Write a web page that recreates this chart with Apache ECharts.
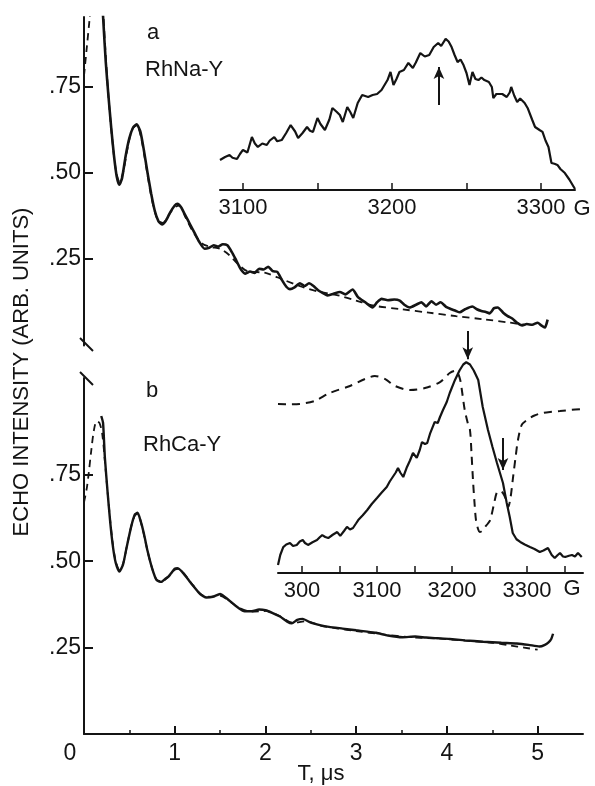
<!DOCTYPE html>
<html>
<head>
<meta charset="utf-8">
<script src="https://cdn.jsdelivr.net/npm/echarts@6/dist/echarts.min.js"></script>
<style>
html,body{margin:0;padding:0;background:#fff;}
#c{width:595px;height:786px;}
</style>
</head>
<body>
<div id="c"></div>
<script>
// ---- main time axis (T, microseconds) ----
const xTicks = [0, 1, 2, 3, 4, 5];
const xHalfTicks = [0.5, 1.5, 2.5, 3.5, 4.5];
const yTicks = [0.25, 0.5, 0.75];
const yTickLabels = ['.25', '.50', '.75'];

// panel a (RhNa-Y): echo decay, experiment (solid) and fit (dashed)
const solidA = [
[0.185,1.10],[0.20,1.0],[0.215,0.93],[0.24,0.82],[0.27,0.72],[0.30,0.63],[0.33,0.55],[0.36,0.49],[0.39,0.465],[0.42,0.485],[0.46,0.55],[0.50,0.60],[0.54,0.63],[0.58,0.64],[0.62,0.62],[0.66,0.565],[0.70,0.50],[0.74,0.44],[0.78,0.39],[0.82,0.36],[0.86,0.35],[0.90,0.36],[0.95,0.385],[1.00,0.405],[1.03,0.41],[1.07,0.40],[1.12,0.375],[1.17,0.35],[1.22,0.325],[1.27,0.30],[1.33,0.28],[1.38,0.283],[1.43,0.29],[1.48,0.286],[1.53,0.293],[1.58,0.29],[1.63,0.27],[1.68,0.245],[1.73,0.22],[1.78,0.208],[1.83,0.214],[1.88,0.21],[1.93,0.222],[1.98,0.22],[2.03,0.228],[2.08,0.215],[2.13,0.213],[2.18,0.19],[2.23,0.17],[2.27,0.163],[2.32,0.168],[2.38,0.18],[2.43,0.172],[2.48,0.18],[2.53,0.172],[2.58,0.16],[2.63,0.152],[2.68,0.145],[2.75,0.15],[2.82,0.155],[2.88,0.148],[2.96,0.162],[3.02,0.14],[3.1,0.125],[3.18,0.11],[3.23,0.125],[3.28,0.135],[3.35,0.131],[3.42,0.133],[3.48,0.13],[3.53,0.118],[3.59,0.11],[3.66,0.118],[3.72,0.125],[3.77,0.113],[3.83,0.128],[3.88,0.118],[3.93,0.125],[3.99,0.112],[4.05,0.105],[4.10,0.1],[4.14,0.096],[4.2,0.105],[4.28,0.113],[4.33,0.105],[4.38,0.1],[4.43,0.097],[4.47,0.093],[4.52,0.108],[4.56,0.11],[4.62,0.095],[4.67,0.085],[4.72,0.078],[4.77,0.066],[4.83,0.058],[4.88,0.062],[4.94,0.06],[5.0,0.066],[5.04,0.058],[5.08,0.052],[5.11,0.075]
];
const dashedA = [
[0,0.78],[0.03,0.86],[0.06,0.94],[0.09,1.02],[0.13,1.1],[0.17,1.12],[0.2,1.02],[0.23,0.88],[0.27,0.72],[0.31,0.6],[0.35,0.51],[0.39,0.475],[0.43,0.5],[0.48,0.57],[0.53,0.625],[0.58,0.638],[0.63,0.6],[0.69,0.51],[0.75,0.42],[0.81,0.365],[0.87,0.355],[0.94,0.38],[1.0,0.40],[1.05,0.405],[1.12,0.37],[1.2,0.33],[1.3,0.295],[1.4,0.285],[1.5,0.28],[1.6,0.262],[1.7,0.235],[1.8,0.215],[2.0,0.21],[2.2,0.19],[2.4,0.17],[2.6,0.155],[2.8,0.145],[3.0,0.13],[3.2,0.115],[3.5,0.105],[3.8,0.095],[4.1,0.085],[4.4,0.076],[4.7,0.066],[4.85,0.06]
];

// panel b (RhCa-Y)
const solidB = [
[0.19,0.92],[0.21,0.90],[0.23,0.80],[0.26,0.70],[0.29,0.61],[0.32,0.54],[0.35,0.495],[0.39,0.47],[0.43,0.49],[0.47,0.54],[0.52,0.60],[0.56,0.635],[0.59,0.64],[0.62,0.62],[0.66,0.58],[0.70,0.53],[0.75,0.48],[0.80,0.445],[0.85,0.44],[0.90,0.45],[0.93,0.455],[0.96,0.465],[1.0,0.478],[1.03,0.48],[1.08,0.47],[1.14,0.45],[1.2,0.43],[1.28,0.405],[1.35,0.395],[1.42,0.397],[1.5,0.405],[1.56,0.395],[1.63,0.38],[1.7,0.365],[1.77,0.355],[1.85,0.355],[1.93,0.36],[2.0,0.358],[2.08,0.35],[2.16,0.34],[2.24,0.325],[2.29,0.32],[2.35,0.33],[2.41,0.333],[2.5,0.322],[2.6,0.315],[2.7,0.31],[2.85,0.305],[3.0,0.30],[3.1,0.297],[3.22,0.293],[3.35,0.285],[3.51,0.28],[3.65,0.282],[3.77,0.279],[3.9,0.277],[4.03,0.275],[4.2,0.271],[4.4,0.267],[4.6,0.264],[4.77,0.262],[4.9,0.258],[5.02,0.253],[5.08,0.258],[5.12,0.265],[5.15,0.275],[5.17,0.29]
];
const dashedB = [
[0,0.67],[0.03,0.71],[0.05,0.75],[0.08,0.82],[0.11,0.88],[0.14,0.905],[0.17,0.9],[0.2,0.87],[0.23,0.79],[0.26,0.7],[0.29,0.615],[0.32,0.545],[0.35,0.5],[0.39,0.475],[0.43,0.492],[0.47,0.54],[0.52,0.6],[0.56,0.632],[0.59,0.636],[0.63,0.61],[0.7,0.53],[0.75,0.48],[0.8,0.447],[0.86,0.442],[0.93,0.455],[1.0,0.475],[1.04,0.478],[1.1,0.465],[1.2,0.43],[1.3,0.402],[1.4,0.397],[1.5,0.4],[1.6,0.385],[1.7,0.366],[1.85,0.354],[2.0,0.356],[2.15,0.342],[2.3,0.322],[2.45,0.326],[2.6,0.314],[2.8,0.305],[3.0,0.298],[3.3,0.288],[3.6,0.28],[3.9,0.276],[4.2,0.27],[4.5,0.264],[4.7,0.256],[4.85,0.25],[5.0,0.244]
];

// inset a: field sweep (G)
const insetATicks = [3100, 3150, 3200, 3250, 3300];
const insetALabels = [3100, 3200, 3300];
const insetA = [
[3084.6,0.20],[3088,0.22],[3091,0.233],[3093,0.215],[3096,0.207],[3098,0.24],[3100,0.267],[3103,0.25],[3106,0.353],[3108,0.31],[3110,0.287],[3113,0.31],[3116,0.30],[3118,0.33],[3121,0.353],[3123,0.325],[3126,0.333],[3129,0.38],[3132,0.433],[3135,0.39],[3137,0.347],[3140,0.38],[3143,0.42],[3145,0.395],[3147,0.387],[3150,0.48],[3152,0.44],[3155,0.40],[3158,0.47],[3160,0.547],[3163,0.52],[3165,0.50],[3167,0.453],[3170,0.553],[3172,0.52],[3174,0.48],[3177,0.58],[3180,0.633],[3184,0.62],[3187,0.633],[3190,0.64],[3193,0.667],[3197,0.733],[3199,0.787],[3201,0.70],[3203,0.74],[3205,0.787],[3208,0.80],[3211,0.847],[3214,0.813],[3216,0.85],[3219,0.913],[3222,0.89],[3225,0.90],[3228,0.953],[3231,0.98],[3233,0.96],[3236,1.007],[3238,0.99],[3240,0.953],[3242,0.90],[3244,0.853],[3246,0.87],[3248,0.833],[3250,0.78],[3252,0.70],[3254,0.787],[3256,0.74],[3258,0.733],[3260,0.75],[3262,0.733],[3265,0.72],[3267,0.687],[3268,0.613],[3270,0.64],[3271,0.653],[3274,0.64],[3277,0.62],[3279,0.65],[3280,0.687],[3282,0.63],[3284,0.587],[3286,0.61],[3287,0.62],[3289,0.58],[3291,0.547],[3294,0.47],[3296,0.42],[3299,0.40],[3301,0.387],[3303,0.33],[3305,0.287],[3307,0.18],[3309,0.175],[3311,0.167],[3313,0.14],[3316,0.113],[3319,0.07],[3322.8,0.007]
];
const arrowA = [3231.5, 0.567, 0.82];

// inset b
const insetBTicks = [3000, 3050, 3100, 3150, 3200, 3250, 3300, 3350];
const insetBLabelValues = [3000, 3100, 3200, 3300];
const insetBLabels = ['300', '3100', '3200', '3300'];
const insetBSolid = [
[2968,0.053],[2971,0.12],[2975,0.173],[2979,0.19],[2984,0.20],[2988,0.18],[2993,0.187],[2997,0.21],[3001,0.22],[3004,0.2],[3008,0.187],[3014,0.205],[3020,0.22],[3024,0.24],[3027,0.253],[3031,0.24],[3035,0.233],[3041,0.255],[3047,0.273],[3051,0.247],[3056,0.28],[3060,0.307],[3064,0.29],[3068,0.30],[3072,0.33],[3075,0.353],[3081,0.385],[3087,0.42],[3093,0.46],[3100,0.50],[3106,0.535],[3113,0.573],[3117,0.61],[3121,0.64],[3125,0.67],[3128,0.70],[3131,0.67],[3135,0.64],[3140,0.707],[3144,0.75],[3148,0.80],[3153,0.767],[3157,0.82],[3160,0.873],[3164,0.86],[3167,0.867],[3171,0.933],[3177,1.007],[3181,1.0],[3184,1.04],[3188,1.087],[3193,1.14],[3197,1.20],[3204,1.287],[3210,1.35],[3215,1.39],[3219,1.405],[3224,1.39],[3229,1.35],[3235,1.287],[3241,1.107],[3248,0.953],[3254,0.84],[3260,0.733],[3268,0.60],[3273,0.467],[3277,0.373],[3281,0.267],[3286,0.225],[3291,0.207],[3297,0.19],[3304,0.173],[3310,0.16],[3317,0.14],[3322,0.15],[3328,0.167],[3333,0.12],[3337,0.10],[3341,0.12],[3344,0.133],[3348,0.11],[3351,0.107],[3356,0.115],[3360,0.12],[3364,0.11],[3368,0.133],[3373,0.107]
];
const insetBDashed = [
[2968,1.127],[2985,1.125],[2997,1.127],[3017,1.147],[3037,1.20],[3064,1.247],[3084,1.293],[3097,1.313],[3111,1.293],[3124,1.247],[3144,1.22],[3164,1.233],[3184,1.273],[3197,1.333],[3204,1.347],[3208,1.33],[3211,1.287],[3214,1.19],[3217,1.087],[3221,1.0],[3224,0.953],[3226,0.80],[3228,0.62],[3230,0.47],[3232,0.353],[3235,0.29],[3237,0.273],[3240,0.28],[3244,0.307],[3248,0.33],[3251,0.353],[3256,0.46],[3260,0.54],[3264,0.545],[3268,0.533],[3272,0.49],[3275,0.44],[3278,0.5],[3281,0.62],[3285,0.78],[3288,0.887],[3293,0.987],[3300,1.02],[3310,1.05],[3321,1.067],[3333,1.075],[3344,1.08],[3360,1.088],[3374,1.093]
];
const arrowB1 = [3221, 1.613, 1.425];
const arrowB2 = [3268, 0.90, 0.687];

const INK = '#141414';
const FONT = '"Liberation Sans", Arial, sans-serif';

function arrowLine(list) {
  return {
    silent: true, animation: false,
    symbol: ['none', 'arrow'], symbolSize: [8, 12],
    label: {show: false},
    lineStyle: {color: INK, width: 2, type: 'solid'},
    data: list.map(a => [{coord: [a[0], a[1]]}, {coord: [a[0], a[2]]}])
  };
}

const chart = echarts.init(document.getElementById('c'), null, {renderer: 'canvas'});
const option = {
  backgroundColor: '#ffffff',
  animation: false,
  grid: [
    {left: 84, top: 17, width: 499, height: 328.5},
    {left: 84, top: 378, width: 499, height: 356},
    {left: 220, top: 25, width: 355, height: 165},
    {left: 278, top: 318, width: 305, height: 255}
  ],
  xAxis: [
    {gridIndex: 0, type: 'value', min: 0, max: 5.5, show: false},
    {gridIndex: 1, type: 'value', position: 'bottom', min: 0, max: 5.5,
      axisLine: {lineStyle: {color: INK, width: 2}},
      axisTick: {inside: true, length: 8, customValues: xTicks, lineStyle: {color: INK, width: 2}},
      axisLabel: {customValues: xTicks, color: INK, fontSize: 23, fontFamily: FONT, margin: 8,
        formatter: v => v === 0 ? '{z|0}' : String(v),
        rich: {z: {fontSize: 23, fontFamily: FONT, color: INK, padding: [0, 28, 0, 0]}}},
      splitLine: {show: false}},
    {gridIndex: 1, type: 'value', position: 'bottom', offset: 0, min: 0, max: 5.5,
      axisLine: {show: false},
      axisTick: {inside: true, length: 4, customValues: xHalfTicks, lineStyle: {color: INK, width: 1.5}},
      axisLabel: {show: false}, splitLine: {show: false}},
    {gridIndex: 2, type: 'value', min: 3084.6, max: 3322.8,
      axisLine: {lineStyle: {color: INK, width: 2}},
      axisTick: {inside: true, length: 7, customValues: insetATicks, lineStyle: {color: INK, width: 1.5}},
      axisLabel: {customValues: insetALabels, color: INK, fontSize: 22, fontFamily: FONT, margin: 7,
        formatter: v => String(v)},
      splitLine: {show: false}},
    {gridIndex: 3, type: 'value', min: 2968, max: 3374.7,
      axisLine: {lineStyle: {color: INK, width: 2}},
      axisTick: {inside: true, length: 7, customValues: insetBTicks, lineStyle: {color: INK, width: 1.5}},
      axisLabel: {customValues: insetBLabelValues, color: INK, fontSize: 22, fontFamily: FONT, margin: 7,
        formatter: v => insetBLabels[insetBLabelValues.indexOf(v)] || ''},
      splitLine: {show: false}}
  ],
  yAxis: [
    {gridIndex: 0, type: 'value', min: 0, max: 0.9505,
      axisLine: {show: true, lineStyle: {color: INK, width: 2}},
      axisTick: {show: true, inside: true, length: 9, customValues: yTicks, lineStyle: {color: INK, width: 2}},
      axisLabel: {customValues: yTicks, color: INK, fontSize: 23, fontFamily: FONT, margin: 3,
        formatter: v => yTickLabels[yTicks.indexOf(v)] || ''},
      splitLine: {show: false}},
    {gridIndex: 1, type: 'value', min: 0, max: 1.030,
      axisLine: {show: true, lineStyle: {color: INK, width: 2}},
      axisTick: {show: true, inside: true, length: 9, customValues: yTicks, lineStyle: {color: INK, width: 2}},
      axisLabel: {customValues: yTicks, color: INK, fontSize: 23, fontFamily: FONT, margin: 3,
        formatter: v => yTickLabels[yTicks.indexOf(v)] || ''},
      splitLine: {show: false}},
    {gridIndex: 2, type: 'value', min: 0, max: 1.1, show: false},
    {gridIndex: 3, type: 'value', min: 0, max: 1.7, show: false}
  ],
  series: [
    {type: 'line', xAxisIndex: 0, yAxisIndex: 0, data: dashedA, showSymbol: false, smooth: 0.3,
      lineStyle: {color: INK, width: 1.8, type: [7, 5]}, z: 2},
    {type: 'line', xAxisIndex: 0, yAxisIndex: 0, data: solidA, showSymbol: false, smooth: 0.2,
      lineStyle: {color: INK, width: 2.6}, z: 3},
    {type: 'line', xAxisIndex: 1, yAxisIndex: 1, data: dashedB, showSymbol: false, smooth: 0.3,
      lineStyle: {color: INK, width: 1.8, type: [7, 5]}, z: 2},
    {type: 'line', xAxisIndex: 1, yAxisIndex: 1, data: solidB, showSymbol: false, smooth: 0.2,
      lineStyle: {color: INK, width: 2.4}, z: 3},
    {type: 'line', xAxisIndex: 3, yAxisIndex: 2, data: insetA, showSymbol: false,
      lineStyle: {color: INK, width: 2.2}, markLine: arrowLine([arrowA])},
    {type: 'line', xAxisIndex: 4, yAxisIndex: 3, data: insetBDashed, showSymbol: false, smooth: 0.3,
      lineStyle: {color: INK, width: 2, type: [8, 6]}},
    {type: 'line', xAxisIndex: 4, yAxisIndex: 3, data: insetBSolid, showSymbol: false,
      lineStyle: {color: INK, width: 2.2}, markLine: arrowLine([arrowB1, arrowB2])}
  ],
  graphic: [
    {type: 'line', shape: {x1: 80, y1: 338, x2: 93, y2: 351}, style: {stroke: INK, lineWidth: 2}},
    {type: 'line', shape: {x1: 80, y1: 372, x2: 93, y2: 385}, style: {stroke: INK, lineWidth: 2}},
    {type: 'text', x: 153, y: 33, style: {text: 'a', font: '22px ' + FONT, fill: INK, textAlign: 'center', textVerticalAlign: 'middle'}},
    {type: 'text', x: 145, y: 70, style: {text: 'RhNa-Y', font: '22px ' + FONT, fill: INK, textAlign: 'left', textVerticalAlign: 'middle'}},
    {type: 'text', x: 152, y: 391, style: {text: 'b', font: '22px ' + FONT, fill: INK, textAlign: 'center', textVerticalAlign: 'middle'}},
    {type: 'text', x: 143, y: 445, style: {text: 'RhCa-Y', font: '22px ' + FONT, fill: INK, textAlign: 'left', textVerticalAlign: 'middle'}},
    {type: 'text', x: 582, y: 209, style: {text: 'G', font: '22px ' + FONT, fill: INK, textAlign: 'center', textVerticalAlign: 'middle'}},
    {type: 'text', x: 572, y: 589, style: {text: 'G', font: '22px ' + FONT, fill: INK, textAlign: 'center', textVerticalAlign: 'middle'}},
    {type: 'text', x: 321, y: 774, style: {text: 'T, \u03bcs', font: '22px ' + FONT, fill: INK, textAlign: 'center', textVerticalAlign: 'middle'}},
    {type: 'text', x: 22, y: 372, rotation: Math.PI / 2, style: {text: 'ECHO INTENSITY (ARB. UNITS)', font: '22px ' + FONT, fill: INK, textAlign: 'center', textVerticalAlign: 'middle'}}
  ]
};
chart.setOption(option);
</script>
</body>
</html>
